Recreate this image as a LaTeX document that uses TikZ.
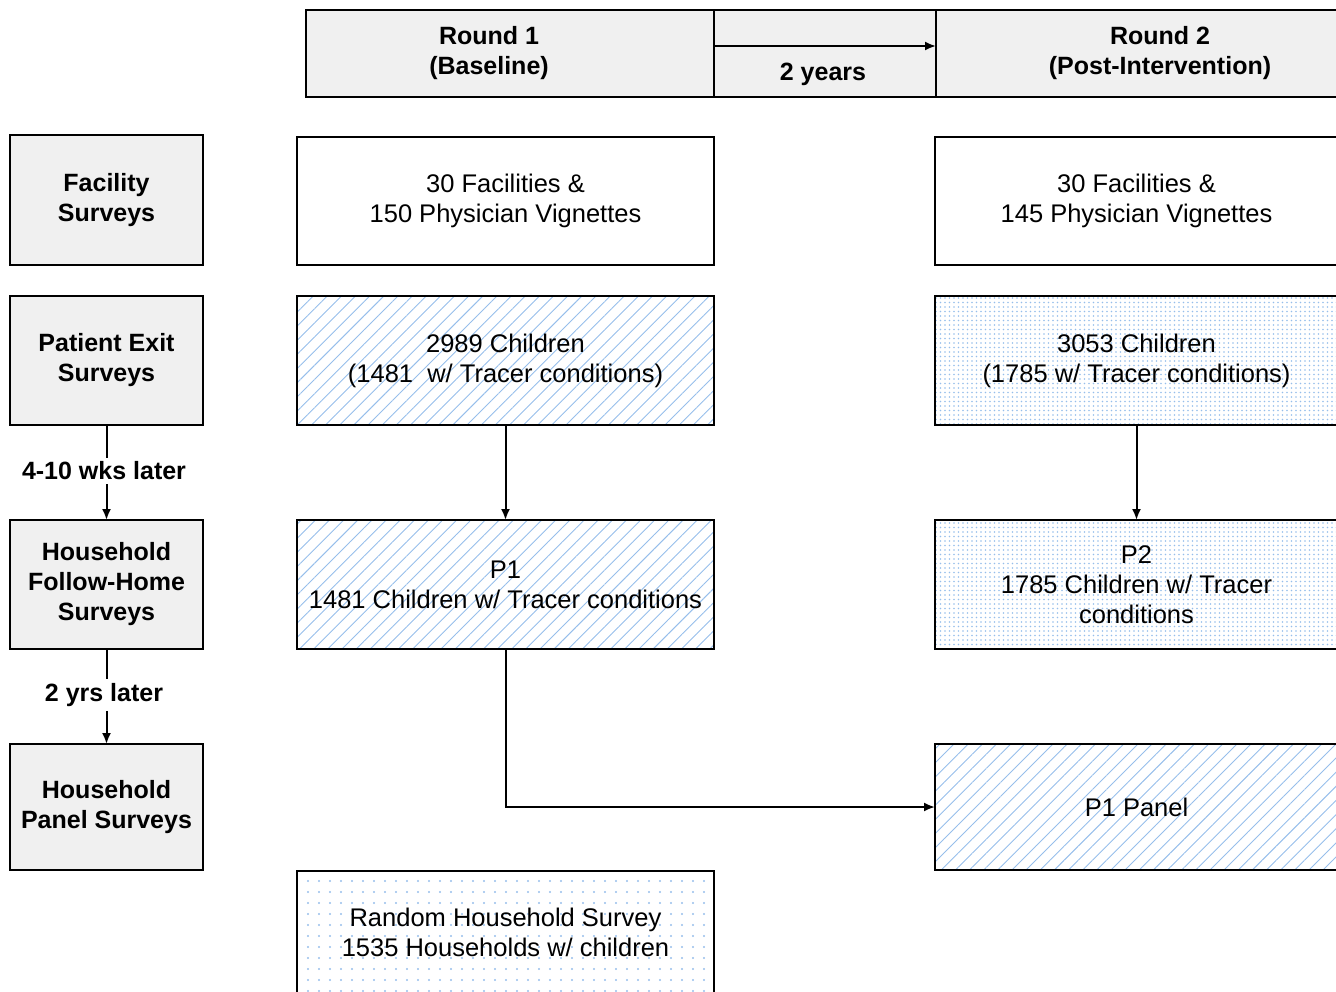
\documentclass[tikz,border=0pt]{standalone}
\usepackage{fontspec}
\setmainfont{Liberation Sans}
\usetikzlibrary{arrows.meta,positioning,patterns.meta}
\definecolor{boxgrey}{RGB}{240,240,240}
\definecolor{hatchblue}{RGB}{150,190,235}
\definecolor{dotblue}{RGB}{150,190,235}
\tikzset{
  blk/.style={draw,line width=2pt,inner sep=0pt,outer sep=0pt,align=center,font=\fontsize{25.5}{30}\selectfont},
  grey/.style={blk,fill=boxgrey,font=\fontsize{25}{30}\selectfont\bfseries},
  hatch/.style={blk,pattern={Lines[angle=45,distance=10pt,line width=0.9pt]},pattern color=hatchblue},
  dense/.style={blk,pattern={Dots[distance=4.5pt,radius=0.9pt]},pattern color=dotblue},
  sparse/.style={blk,pattern={Dots[distance=11pt,radius=1.2pt]},pattern color=dotblue},
  ar/.style={-{Latex[length=11pt,width=9pt]},line width=2pt},
  ln/.style={line width=2pt},
  lbl/.style={inner sep=4pt,font=\fontsize{25}{30}\selectfont\bfseries},
  hd/.style={align=center,font=\fontsize{25}{30}\selectfont\bfseries}
}
\begin{document}
\begin{tikzpicture}[x=1pt,y=-1pt]
\useasboundingbox (0,0) rectangle (1336,991);
\clip (0,0) rectangle (1336,991);

% header
\node[grey,minimum width=408pt,minimum height=87pt] (r1) at (510,53.5) {};
\node[grey,minimum width=222pt,minimum height=87pt] (gap) at (825,53.5) {};
\node[grey,minimum width=404pt,minimum height=87pt] (r2) at (1138,53.5) {};
\node[hd] (r1t) at (489,53) {Round 1\\(Baseline)};
\node[hd] (r2t) at (1160,53) {Round 2\\(Post-Intervention)};
\node[hd] (yrs) at (823,74) {2 years};
\coordinate (gs) at (714,46);
\draw[ar] (gs) -- (gs -| r2.west);

% left column
\node[grey,minimum width=193pt,minimum height=130pt] (fs) at (106.5,200) {Facility\\Surveys};
\node[grey,minimum width=193pt,minimum height=129pt] (pe) at (106.5,360.5) {Patient Exit\\Surveys};
\node[grey,minimum width=193pt,minimum height=129pt] (fh) at (106.5,584.5) {Household\\Follow-Home\\Surveys};
\node[grey,minimum width=193pt,minimum height=126pt] (hp) at (106.5,807) {Household\\Panel Surveys};
\node[lbl] (wks) at (104,471) {4-10 wks later};
\node[lbl] (yrl) at (104,695) {2 yrs later};
\draw[ln] (pe.south) -- (wks.north -| pe.south);
\draw[ar] (wks.south -| fh.north) -- (fh.north);
\draw[ln] (fh.south) -- (yrl.north -| fh.south);
\draw[ar] (yrl.south -| hp.north) -- (hp.north);

% round 1
\node[blk,minimum width=417pt,minimum height=128pt] (mf) at (505.5,201) {30 Facilities \&\\150 Physician Vignettes};
\node[hatch,minimum width=417pt,minimum height=129pt] (mc) at (505.5,360.5) {2989 Children\\(1481 \ w/ Tracer conditions)};
\node[hatch,minimum width=417pt,minimum height=129pt] (mp) at (505.5,584.5) {P1\\1481 Children w/ Tracer conditions};
\node[sparse,minimum width=417pt,minimum height=122pt] (mr) at (505.5,932) {Random Household Survey\\1535 Households w/ children};
\draw[ar] (mc) -- (mp);

% round 2
\node[blk,minimum width=403pt,minimum height=128pt] (rf) at (1136.5,201) {30 Facilities \&\\145 Physician Vignettes};
\node[dense,minimum width=403pt,minimum height=129pt] (rc) at (1136.5,360.5) {3053 Children\\(1785 w/ Tracer conditions)};
\node[dense,minimum width=403pt,minimum height=129pt] (rp) at (1136.5,584.5) {P2\\1785 Children w/ Tracer\\conditions};
\node[hatch,minimum width=403pt,minimum height=126pt] (rpan) at (1136.5,807) {P1 Panel};
\draw[ar] (rc) -- (rp);
\draw[ar] (mp.south) |- (rpan.west);
\end{tikzpicture}
\end{document}
